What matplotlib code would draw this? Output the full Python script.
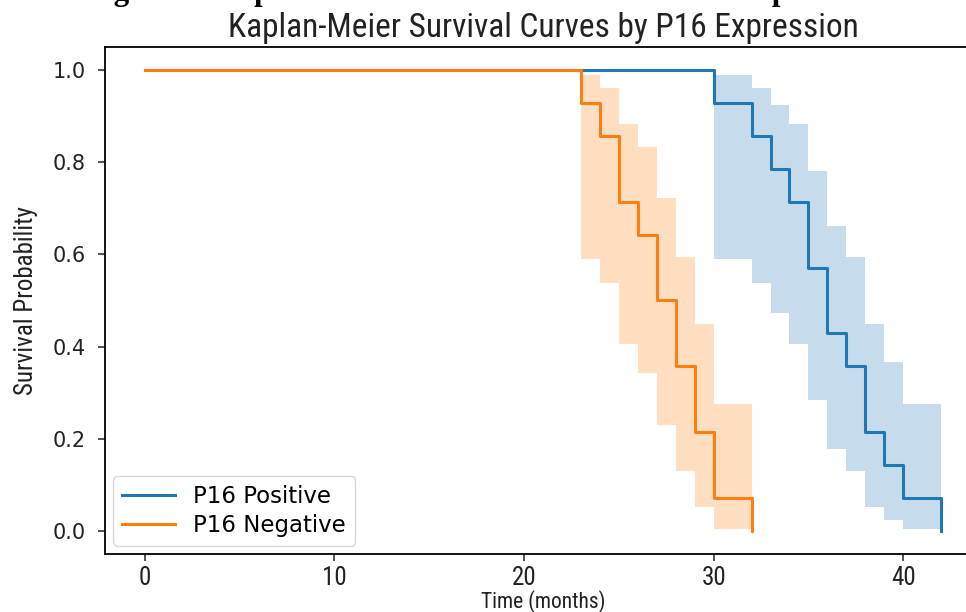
import matplotlib
matplotlib.use("Agg")
import matplotlib.pyplot as plt

# Kaplan-Meier steps (time, survival, 95% band)
pos_t = [0, 30, 32, 33, 34, 35, 36, 37, 38, 39, 40, 42]
pos_s = [1.0, 0.929, 0.857, 0.786, 0.714, 0.571, 0.429, 0.357, 0.214, 0.143, 0.071, 0.0]
pos_lo = [1.0, 0.591, 0.539, 0.472, 0.406, 0.284, 0.177, 0.130, 0.052, 0.023, 0.005, 0.005]
pos_hi = [1.0, 0.990, 0.962, 0.925, 0.882, 0.780, 0.661, 0.594, 0.448, 0.366, 0.275, 0.275]

neg_t = [0, 23, 24, 25, 26, 27, 28, 29, 30, 32]
neg_s = [1.0, 0.929, 0.857, 0.714, 0.643, 0.5, 0.357, 0.214, 0.071, 0.0]
neg_lo = [1.0, 0.591, 0.539, 0.406, 0.343, 0.229, 0.130, 0.052, 0.005, 0.005]
neg_hi = [1.0, 0.990, 0.962, 0.882, 0.833, 0.722, 0.594, 0.448, 0.275, 0.275]

xticks = [0, 10, 20, 30, 40]
yticks = [0.0, 0.2, 0.4, 0.6, 0.8, 1.0]

narrow = ["Roboto Condensed", "DejaVu Sans Condensed", "Liberation Sans Narrow", "Roboto", "DejaVu Sans"]

fig = plt.figure(figsize=(9.66, 6.12), dpi=100)
ax = fig.add_axes([0.1087, 0.0948, 0.9068, 0.8284])

ax.fill_between(pos_t, pos_lo, pos_hi, step="post", color="#1f77b4", alpha=0.25, lw=0)
ax.plot(pos_t, pos_s, drawstyle="steps-post", color="#1f77b4", lw=2.2, label="P16 Positive")
ax.fill_between(neg_t, neg_lo, neg_hi, step="post", color="#ff7f0e", alpha=0.25, lw=0)
ax.plot(neg_t, neg_s, drawstyle="steps-post", color="#ff7f0e", lw=2.2, label="P16 Negative")

ax.set_xlim(-2.1, 44.1)
ax.set_ylim(-0.05, 1.05)
ax.set_xticks(xticks)
ax.set_yticks(yticks)
ax.set_xticklabels([str(v) for v in xticks], family=narrow, fontsize=18, color="#222222")
ax.set_yticklabels(["%.1f" % v for v in yticks], family="DejaVu Sans", fontsize=15, color="#222222")
ax.tick_params(length=5, width=1.1, color="#222222")
ax.tick_params(axis="y", pad=9)
for s in ax.spines.values():
    s.set_linewidth(1.3)

ax.set_title("Kaplan-Meier Survival Curves by P16 Expression", family=narrow,
             fontsize=24, pad=7, color="#222222")
ax.set_xlabel("Time (months)", family=narrow, fontsize=15.5, color="#222222")
ax.xaxis.set_label_coords(0.5, -0.072)
ax.set_ylabel("Survival Probability", family=narrow, fontsize=18, color="#222222")
ax.yaxis.set_label_coords(-0.077, 0.5)

ax.legend(loc="lower left", handlelength=2.3, borderaxespad=0.35, labelspacing=0.25,
          prop={"family": "DejaVu Sans", "size": 16.5})

# caption from the page, cut off at the top edge
fig.text(86 / 966, 1.0, "Figure 3: Kaplan-Meier Survival Curves for P16 Expression",
         family=["Liberation Serif", "DejaVu Serif"], fontweight="bold", fontsize=22.3,
         ha="left", va="baseline")

fig.savefig("out.png", dpi=100)
